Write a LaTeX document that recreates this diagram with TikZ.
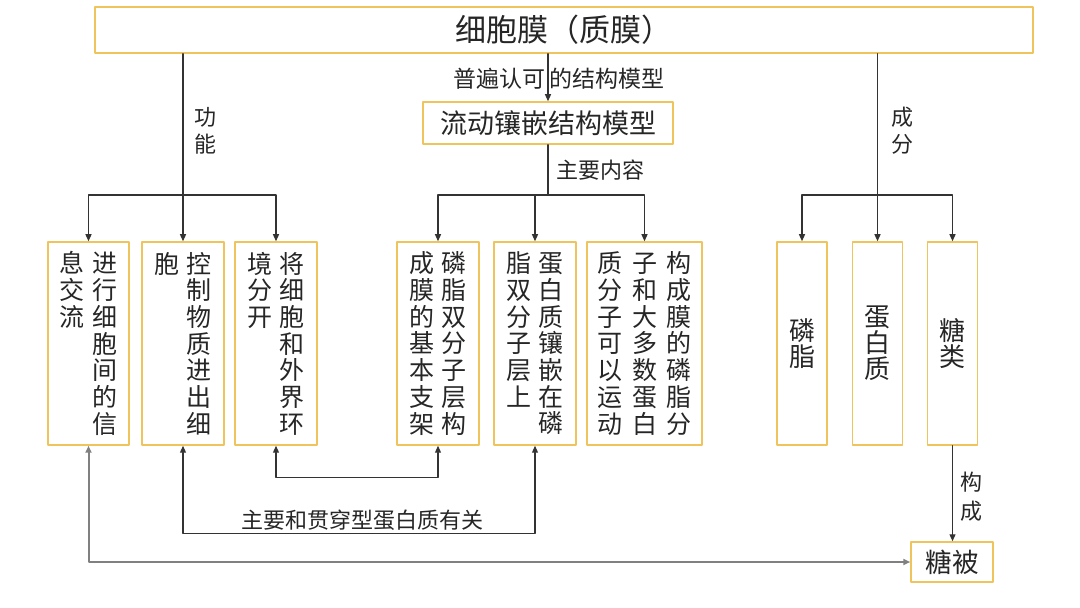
\documentclass[tikz,border=0pt]{standalone}
\usepackage{fontspec}
\setmainfont{Noto Sans CJK SC}
\usetikzlibrary{arrows.meta}
\XeTeXlinebreaklocale "zh"
\XeTeXlinebreakskip=0pt plus 1pt
\definecolor{boxc}{RGB}{240,196,92}
\definecolor{txt}{RGB}{38,38,38}
\newcommand\vcol[1]{\parbox[t]{1.05em}{\centering #1}}
\begin{document}
\begin{tikzpicture}[x=0.5pt,y=-0.5pt,line cap=round,line join=round,
		>={Triangle[length=3.5pt,width=3pt]},
		box/.style={draw=boxc,line width=0.75pt,inner sep=0pt,text=txt,
			font=\fontsize{12.5pt}{13.35pt}\selectfont,minimum height=101.5pt},
		part/.style={box,minimum width=25pt,font=\fontsize{13pt}{13pt}\selectfont},
		lab/.style={text=txt,inner sep=0pt,font=\fontsize{11pt}{13.5pt}\selectfont},
		line/.style={line width=0.6pt,black!80}]
		\useasboundingbox (0,0) rectangle (1080,608);
		\node[box,minimum width=469pt,minimum height=23pt,font=\fontsize{15.5pt}{18pt}\selectfont] (top) at (564,30) {细胞膜（质膜）};
		\node[box,minimum width=125pt,minimum height=21pt,font=\fontsize{13.5pt}{16pt}\selectfont] (model) at (548,123) {流动镶嵌结构模型};
		\node[box,minimum width=40.5pt] (f1) at (88.5,343.5) {\vcol{息交流}\hspace{3pt}\vcol{进行细胞间的信}};
		\node[box,minimum width=41pt] (f2) at (183,343.5) {\vcol{胞}\hspace{3pt}\vcol{控制物质进出细}};
		\node[box,minimum width=41pt] (f3) at (276,343.5) {\vcol{境分开}\hspace{3pt}\vcol{将细胞和外界环}};
		\node[box,minimum width=41pt] (s1) at (438,343.5) {\vcol{成膜的基本支架}\hspace{3pt}\vcol{磷脂双分子层构}};
		\node[box,minimum width=41pt] (s2) at (535,343.5) {\vcol{脂双分子层上}\hspace{3pt}\vcol{蛋白质镶嵌在磷}};
		\node[box,minimum width=57.5pt] (s3) at (644.5,343.5) {\vcol{质分子可以运动}\hspace{4pt}\vcol{子和大多数蛋白}\hspace{4pt}\vcol{构成膜的磷脂分}};
		\node[part] (c1) at (802,343.5) {\vcol{磷脂}};
		\node[part] (c2) at (877.5,343.5) {\vcol{蛋白质}};
		\node[part] (c3) at (952.5,343.5) {\vcol{糖类}};
		\node[box,minimum width=41pt,minimum height=20pt,font=\fontsize{13.3pt}{16pt}\selectfont] (ty) at (952,562) {糖被};
		\node[lab,font=\fontsize{11.5pt}{13.5pt}\selectfont] (l1) at (559,79) {普遍认可\hspace{2pt}的结构模型};
		\node[lab] (l2) at (600,170) {主要内容};
		\node[lab] (l3) at (205,130.5) {\vcol{功能}};
		\node[lab] (l4) at (902,130.5) {\vcol{成分}};
		\node[lab,font=\fontsize{11pt}{14.5pt}\selectfont] (l5) at (971,497) {\vcol{构成}};
		\node[lab] (l6) at (362,520) {主要和贯穿型蛋白质有关};
		\coordinate (fj) at (183,195);
		\coordinate (mj) at (548,195);
		\coordinate (cj) at (877.5,195);
		\draw[line,->] (top.south -| model.north) -- (model.north);
		\draw[line] (top.south -| fj) -- (fj);
		\draw[line] (model.south) -- (mj);
		\draw[line] (top.south -| cj) -- (cj);
		\foreach \n in {f1,f2,f3}
		{
			\draw[line,->] (fj) -| (\n.north);
		}
		\foreach \n in {s1,s2,s3}
		{
			\draw[line,->] (mj) -| (\n.north);
		}
		\foreach \n in {c1,c2,c3}
		{
			\draw[line,->] (cj) -| (\n.north);
		}
		\draw[line,<->] (f3.south) -- ++(0,32) -| (s1.south);
		\draw[line,<->] (f2.south) -- ++(0,88) -| (s2.south);
		\draw[line,<->,black!50,line width=1pt] (f1.south) |- (ty.west);
		\draw[line,->] (c3.south) -- (c3.south |- ty.north);
		\end{tikzpicture}
\end{document}
